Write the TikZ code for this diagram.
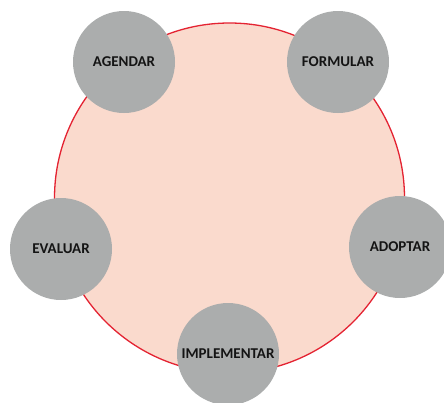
\documentclass[tikz,border=0pt]{standalone}
\usepackage{fontspec}
\setmainfont{Carlito}
\usepackage{tikz}
\definecolor{stagegray}{RGB}{171, 173, 173}
\definecolor{cyclepink}{RGB}{250, 218, 205}
\definecolor{cyclered}{RGB}{228, 35, 50}
\definecolor{labelblack}{RGB}{20, 20, 20}
\tikzset{
  cycle/.style={circle, draw=cyclered, fill=cyclepink, line width=1.3pt,
              minimum size=350pt, inner sep=0pt},
  stage/.style={circle, fill=stagegray, minimum size=102pt, inner sep=0pt,
              text=labelblack, align=center,
              font=\bfseries\fontsize{15}{17}\selectfont},
}

\begin{document}
\begin{tikzpicture}[x=1pt, y=-1pt]
  \clip (0,0) rectangle (444,402);
  \node[cycle] (cycle) at (229.5,198) {};
  \node[stage] (agendar) at (124,62) {AGENDAR};
  \node[stage] (formular) at (338,62) {FORMULAR};
  \node[stage] (adoptar) at (400,247) {ADOPTAR};
  \node[stage] (implementar) at (228,354) {IMPLEMENTAR};
  \node[stage] (evaluar) at (61,249) {EVALUAR};
\end{tikzpicture}
\end{document}
